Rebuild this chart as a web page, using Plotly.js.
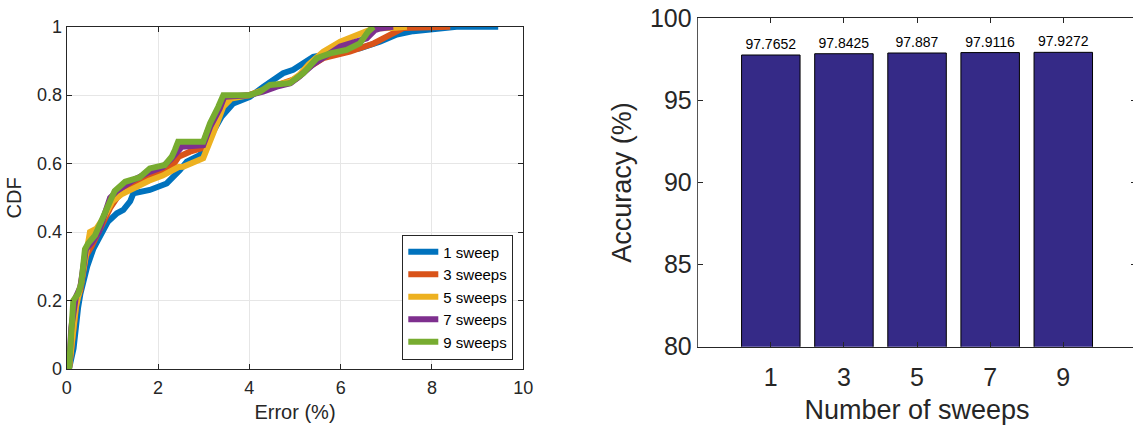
<!DOCTYPE html>
<html>
<head>
<meta charset="utf-8">
<script src="https://cdn.plot.ly/plotly-3.0.1.min.js"></script>
<style>
html,body{margin:0;padding:0;overflow:hidden;background:#fff;}
#chart{width:1140px;height:428px;}
</style>
</head>
<body>
<div id="chart"></div>
<script>
// ---- Left panel: CDF of error ----
const seriesNames = ["1 sweep", "3 sweeps", "5 sweeps", "7 sweeps", "9 sweeps"];
const seriesColors = ["#0072BD", "#D95319", "#EDB120", "#7E2F8E", "#77AC30"];

const err1 = [0.05,0.15,0.25,0.3,0.45,0.58,0.7,0.9,1.1,1.24,1.39,1.46,1.82,2.19,2.48,2.63,2.92,3.14,3.39,3.65,4.01,4.31,4.74,4.96,5.4,5.99,6.42,6.86,7.23,7.59,8.47,8.54,9.45];
const cdf1 = [0,0.06,0.18,0.22,0.3,0.35,0.38,0.43,0.455,0.465,0.49,0.513,0.523,0.542,0.581,0.606,0.625,0.679,0.737,0.776,0.795,0.825,0.864,0.874,0.912,0.927,0.937,0.956,0.977,0.987,0.996,1.0,1.0];

const err3 = [0.05,0.15,0.22,0.3,0.42,0.55,0.7,0.95,1.1,1.3,1.6,1.85,2.15,2.35,2.45,2.7,2.95,3.1,3.3,3.45,3.6,4.0,4.3,4.6,4.85,5.04,5.26,5.62,6.2,6.72,7.08,7.37,8.4];
const cdf3 = [0,0.1,0.2,0.23,0.33,0.36,0.4,0.47,0.5,0.525,0.545,0.56,0.58,0.6,0.62,0.635,0.645,0.7,0.75,0.785,0.795,0.8,0.815,0.83,0.84,0.849,0.878,0.908,0.927,0.951,0.976,0.996,1.0];

const err5 = [0.05,0.12,0.2,0.3,0.4,0.51,0.65,0.8,1.0,1.2,1.5,1.8,2.1,2.3,2.45,2.55,2.99,3.21,3.43,3.6,4.0,4.3,4.6,4.9,5.1,5.3,5.62,5.99,6.35,6.72,7.2,7.45];
const cdf5 = [0,0.1,0.18,0.24,0.33,0.4,0.41,0.44,0.49,0.51,0.53,0.55,0.565,0.58,0.59,0.591,0.616,0.689,0.766,0.79,0.8,0.815,0.83,0.84,0.86,0.89,0.927,0.956,0.976,0.995,0.997,1.0];

const err7 = [0.05,0.1,0.2,0.3,0.42,0.55,0.7,0.95,1.1,1.46,1.8,2.1,2.3,2.45,2.52,2.99,3.15,3.35,3.45,4.0,4.3,4.6,4.9,5.1,5.4,5.99,6.57,6.75,6.86,7.15];
const cdf7 = [0,0.12,0.21,0.24,0.35,0.37,0.4,0.5,0.52,0.552,0.575,0.59,0.615,0.64,0.649,0.654,0.71,0.76,0.795,0.8,0.81,0.825,0.835,0.855,0.89,0.942,0.966,0.99,0.995,1.0];

const err9 = [0.05,0.1,0.145,0.25,0.32,0.4,0.47,0.62,0.8,0.95,1.05,1.28,1.6,1.82,2.15,2.3,2.37,2.44,2.99,3.14,3.32,3.43,4.0,4.23,4.45,4.89,5.18,5.48,5.77,6.13,6.42,6.6,6.72];
const cdf9 = [0,0.08,0.2,0.22,0.25,0.35,0.367,0.39,0.44,0.49,0.52,0.547,0.56,0.586,0.596,0.62,0.64,0.664,0.664,0.718,0.766,0.8,0.8,0.81,0.83,0.835,0.864,0.908,0.922,0.932,0.951,0.985,1.0];

const errSeries = [err1, err3, err5, err7, err9];
const cdfSeries = [cdf1, cdf3, cdf5, cdf7, cdf9];

// ---- Right panel: accuracy bars ----
const sweepCounts = [1, 3, 5, 7, 9];
const accuracy = [97.7652, 97.8425, 97.887, 97.9116, 97.9272];
const accuracyLabels = ["97.7652", "97.8425", "97.887", "97.9116", "97.9272"];

const FONT = "Liberation Sans, Arial, Helvetica, sans-serif";
const AX = "#262626";
const W = 1140, H = 428;

const traces = [];
for (let i = 0; i < 5; i++) {
  traces.push({
    type: "scatter", mode: "lines",
    x: errSeries[i], y: cdfSeries[i],
    name: seriesNames[i],
    line: {color: seriesColors[i], width: 6},
    xaxis: "x", yaxis: "y",
    hoverinfo: "skip"
  });
}
traces.push({
  type: "bar",
  x: sweepCounts, y: accuracy,
  width: 1.6,
  marker: {color: "#352A87", line: {color: "#000000", width: 1}},
  text: accuracyLabels,
  textposition: "outside",
  textfont: {family: FONT, size: 14, color: "#000000"},
  cliponaxis: false,
  showlegend: false,
  xaxis: "x2", yaxis: "y2",
  hoverinfo: "skip"
});

const px = v => v / W;
const py = v => (H - v) / H;

const layout = {
  width: W, height: H,
  margin: {l: 0, r: 0, t: 0, b: 0},
  paper_bgcolor: "#ffffff",
  plot_bgcolor: "#ffffff",
  font: {family: FONT, color: AX},
  showlegend: true,
  legend: {
    x: px(513.3), y: py(359.5), xanchor: "right", yanchor: "bottom",
    bgcolor: "#ffffff", bordercolor: "#262626", borderwidth: 1,
    font: {family: FONT, size: 15, color: "#000000"},
    itemwidth: 30, tracegroupgap: 0
  },
  xaxis: {
    domain: [px(66.7), px(523.3)],
    range: [0, 10], tickvals: [0, 2, 4, 6, 8, 10],
    showgrid: true, gridcolor: "#e6e6e6", gridwidth: 1,
    zeroline: false,
    showline: true, linecolor: AX, linewidth: 1, mirror: "ticks",
    ticks: "inside", ticklen: 5, tickcolor: AX,
    tickfont: {family: FONT, size: 18, color: AX},
    ticklabelstandoff: 2,
    title: {text: "Error (%)", font: {family: FONT, size: 20, color: AX}, standoff: 8},
    anchor: "y", fixedrange: true
  },
  yaxis: {
    domain: [py(369), py(26.7)],
    range: [0, 1], tickvals: [0, 0.2, 0.4, 0.6, 0.8, 1],
    showgrid: true, gridcolor: "#e6e6e6", gridwidth: 1,
    zeroline: false,
    showline: true, linecolor: AX, linewidth: 1, mirror: "ticks",
    ticks: "inside", ticklen: 5, tickcolor: AX,
    tickfont: {family: FONT, size: 18, color: AX},
    title: {text: "CDF", font: {family: FONT, size: 20, color: AX}, standoff: 10},
    anchor: "x", fixedrange: true
  },
  xaxis2: {
    domain: [px(697.7), px(1136.4)],
    range: [-1, 11], tickvals: sweepCounts,
    showgrid: false, zeroline: false,
    showline: true, linecolor: AX, linewidth: 1, mirror: "ticks",
    ticks: "inside", ticklen: 5, tickcolor: AX,
    tickfont: {family: FONT, size: 25, color: AX},
    ticklabelstandoff: 8,
    title: {text: "Number of sweeps", font: {family: FONT, size: 27, color: AX}, standoff: 10},
    anchor: "y2", fixedrange: true
  },
  yaxis2: {
    domain: [py(346.7), py(18.3)],
    range: [80, 100], tickvals: [80, 85, 90, 95, 100],
    showgrid: false, zeroline: false,
    showline: true, linecolor: "#555555", linewidth: 1, mirror: "ticks",
    ticks: "inside", ticklen: 5, tickcolor: AX,
    tickfont: {family: FONT, size: 25, color: AX},
    title: {text: "Accuracy (%)", font: {family: FONT, size: 27, color: AX}, standoff: 10},
    anchor: "x2", fixedrange: true
  }
};

Plotly.newPlot("chart", traces, layout, {displayModeBar: false, staticPlot: true});
</script>
</body>
</html>
